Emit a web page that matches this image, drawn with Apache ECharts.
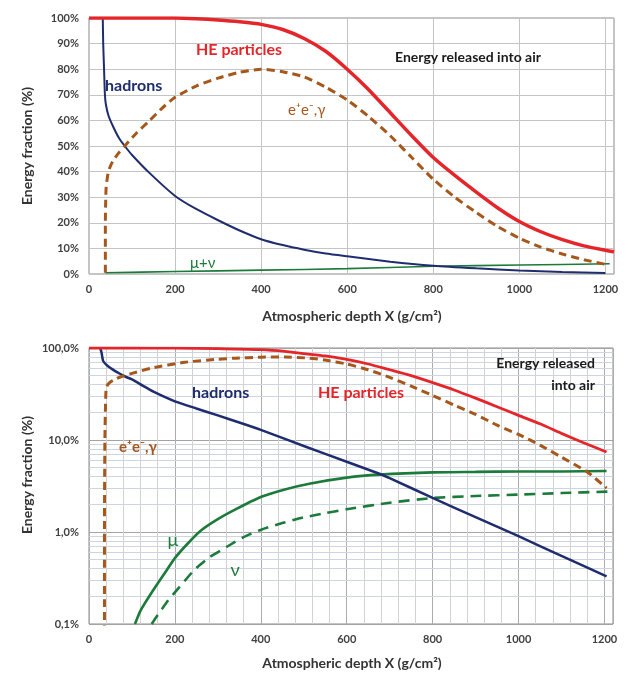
<!DOCTYPE html>
<html>
<head>
<meta charset="utf-8">
<script src="https://cdn.jsdelivr.net/npm/echarts@6/dist/echarts.min.js"></script>
<style>
  html, body { margin: 0; padding: 0; background: #fff; }
  #chart { width: 630px; height: 674px; }
</style>
</head>
<body>
<div id="chart"></div>
<script>
// ---- top panel (linear scale), points are [depth g/cm2, energy %] ----
const topHE = [[0,100],[100,100],[200,100],[250,99.7],[300,99.2],[350,98.5],[400,97.5],[450,95.5],[500,92],[550,87],[600,80],[650,72],[700,63],[750,54],[800,45.5],[850,38.5],[900,32],[950,25.8],[1000,20.5],[1050,16.5],[1100,13.4],[1150,11],[1200,9.3],[1220,8.7]];
const topEM = [[38,0.5],[38,10],[38,20],[39,30],[40,34],[45,40],[55,44],[70,47.5],[83,50],[110,55],[140,59.8],[170,64.8],[200,69],[250,73.5],[300,76.5],[350,78.8],[400,80],[450,79],[500,77],[550,73],[600,68],[650,61.5],[700,54],[750,45.5],[800,37],[850,30],[900,24],[950,18.5],[1000,14],[1050,10.5],[1100,7.8],[1150,5.6],[1205,3.6]];
const topHadrons = [[32,100],[33,90],[35,80],[37,70],[39,66.5],[45,62],[56,57.6],[70,53],[83,50],[100,46.5],[141,39.4],[200,30.5],[250,25.3],[300,21],[350,17],[400,13.6],[450,11.3],[500,9.5],[550,8],[600,6.9],[700,4.8],[800,3.2],[900,2.2],[1000,1.4],[1100,0.8],[1200,0.4]];
const topMuNu = [[38,0.5],[200,0.95],[400,1.5],[600,2.1],[800,3.0],[1000,3.5],[1210,4.0]];

// ---- bottom panel (log scale) ----
const botHE = [[0,100],[100,100],[200,99.5],[300,98.5],[400,96],[456,92],[500,87],[550,82],[600,75],[650,67],[700,58],[750,50],[800,42],[850,35],[900,28.5],[950,23],[1000,18.5],[1050,15],[1100,11.8],[1150,9.4],[1205,7.4]];
const botEM = [[36,0.08],[36,1],[37,10],[39,30],[41,38],[48,42],[60,45.5],[76,49],[100,53],[146,60.5],[223,70],[300,75.5],[340,77.5],[400,79.5],[456,80],[513,77.5],[550,74],[600,67],[650,58],[700,48],[750,38.5],[800,30.5],[850,24],[900,19],[950,14.5],[1000,11.5],[1050,8.8],[1100,6.5],[1160,4.5],[1205,3.0]];
const botHadrons = [[26,100],[29,90],[33,72],[40,66],[50,60.5],[60,56.5],[72,52.5],[84,49],[100,45.5],[125,39],[150,33.5],[200,26.3],[250,22],[300,18.5],[350,15.5],[400,12.9],[500,8.6],[600,5.8],[676,4.3],[700,3.85],[800,2.35],[900,1.45],[1000,0.9],[1100,0.55],[1205,0.33]];
const botMu = [[107,0.1],[120,0.14],[146,0.22],[175,0.35],[200,0.52],[230,0.75],[262,1.05],[300,1.38],[340,1.75],[400,2.4],[456,2.9],[513,3.35],[600,3.9],[676,4.2],[800,4.45],[900,4.5],[1000,4.55],[1100,4.55],[1205,4.6]];
const botNu = [[146,0.1],[160,0.125],[184,0.18],[210,0.25],[246,0.39],[280,0.53],[323,0.7],[360,0.88],[401,1.06],[450,1.25],[494,1.42],[550,1.6],[600,1.77],[700,2.08],[800,2.34],[900,2.46],[1000,2.55],[1100,2.65],[1208,2.75]];

// grid helper lines of the log panel
const logMinor = [0.2,0.3,0.4,0.5,0.6,0.7,0.8,0.9,2,3,4,5,6,7,8,9,20,30,40,50,60,70,80,90];
const depthMinor = [];
for (let d = 40; d < 1200; d += 40) if (d % 200 !== 0) depthMinor.push(d);

const RED = '#e4262b', NAVY = '#1f2d6e', BROWN = '#a5571c', GREEN = '#1c7a3a';
const FONT = 'Lato, "Open Sans", sans-serif';

const chart = echarts.init(document.getElementById('chart'));

function xAx(idx) {
  return {
    type: 'value', gridIndex: idx, min: 0, max: 1220, interval: 200,
    axisLine: { show: false }, axisTick: { show: false },
    axisLabel: {
      margin: 10, color: '#404040', fontWeight: 'bold', fontSize: 11, fontFamily: FONT,
      formatter: v => (v % 200 === 0 ? String(v) : '')
    },
    splitLine: { show: true, lineStyle: { color: idx === 0 ? '#c4c4c4' : '#acacac', width: 1 } }
  };
}

function line(name, data, color, width, dash, xi, z) {
  return {
    name, type: 'line', data, xAxisIndex: xi, yAxisIndex: xi,
    showSymbol: false, smooth: 0.2, z: z || 3,
    lineStyle: { color, width, type: dash || 'solid' }
  };
}

function txt(text, x, y, color, size, weight, align, rot) {
  return {
    type: 'text', x, y, rotation: rot || 0, z: 10,
    style: {
      text, fill: color, fontSize: size, fontWeight: weight || 'bold', fontFamily: FONT,
      textAlign: align || 'left', textVerticalAlign: 'middle'
    }
  };
}

const option = {
  backgroundColor: '#fff',
  animation: false,
  grid: [
    { left: 89, top: 18, width: 525, height: 256, show: true, borderColor: '#8a8a8a', borderWidth: 1 },
    { left: 89, top: 348, width: 524, height: 276, show: true, borderColor: '#8a8a8a', borderWidth: 1 }
  ],
  xAxis: [xAx(0), xAx(1)],
  yAxis: [
    {
      type: 'value', gridIndex: 0, min: 0, max: 100, interval: 10,
      axisLine: { show: false }, axisTick: { show: false },
      axisLabel: { margin: 10, color: '#404040', fontWeight: 'bold', fontSize: 11, fontFamily: FONT, formatter: '{value}%' },
      splitLine: { lineStyle: { color: '#c4c4c4' } }
    },
    {
      type: 'log', gridIndex: 1, min: 0.1, max: 100, logBase: 10,
      axisLine: { show: false }, axisTick: { show: false },
      axisLabel: {
        margin: 10, color: '#404040', fontWeight: 'bold', fontSize: 11, fontFamily: FONT,
        formatter: v => v.toFixed(1).replace('.', ',') + '%'
      },
      splitLine: { lineStyle: { color: '#a3a3a3' } }
    }
  ],
  series: [
    {
      type: 'line', data: [], xAxisIndex: 1, yAxisIndex: 1, z: 1, silent: true,
      markLine: {
        silent: true, symbol: 'none', label: { show: false }, animation: false, z: 1,
        lineStyle: { color: '#cdd5e2', width: 1, type: 'solid' },
        data: logMinor.map(v => ({ yAxis: v })).concat(depthMinor.map(v => ({ xAxis: v, lineStyle: { color: '#d2d2d2', width: 1, type: 'solid' } })))
      }
    },
    line('μ+ν', topMuNu, GREEN, 1.6, null, 0),
    line('hadrons', topHadrons, NAVY, 2, null, 0),
    line('e+e-,γ', topEM, BROWN, 3, [8, 5], 0),
    line('HE particles', topHE, RED, 3.5, null, 0, 4),
    line('ν', botNu, GREEN, 2.6, [11, 7], 1),
    line('μ', botMu, GREEN, 2.6, null, 1),
    line('hadrons', botHadrons, NAVY, 2.5, null, 1),
    line('e+e-,γ', botEM, BROWN, 3, [8, 5], 1),
    line('HE particles', botHE, RED, 2.8, null, 1, 4)
  ],
  graphic: [
    txt('Energy fraction (%)', 27, 146, '#333', 14, 'bold', 'center', Math.PI / 2),
    txt('Energy fraction (%)', 27, 475, '#333', 14, 'bold', 'center', Math.PI / 2),
    txt('Atmospheric depth X (g/cm²)', 352, 316, '#333', 14, 'bold', 'center'),
    txt('Atmospheric depth X (g/cm²)', 352, 663, '#333', 14, 'bold', 'center'),
    // top panel annotations
    txt('HE particles', 196, 50, RED, 16),
    txt('hadrons', 105, 86, NAVY, 16),
    txt('e⁺e⁻,γ', 288, 110, BROWN, 15, 'normal'),
    txt('μ+ν', 190, 263, GREEN, 15, 'normal'),
    txt('Energy released into air', 395, 57, '#1a1a1a', 14),
    // bottom panel annotations
    txt('Energy released', 595, 363, '#1a1a1a', 14, 'bold', 'right'),
    txt('into air', 595, 385, '#1a1a1a', 14, 'bold', 'right'),
    txt('HE particles', 318, 393, RED, 16),
    txt('hadrons', 192, 393, NAVY, 16),
    txt('e⁺e⁻,γ', 119, 447, BROWN, 15),
    txt('μ', 173, 540, GREEN, 18, 'normal', 'center'),
    txt('ν', 235, 570, GREEN, 18, 'normal', 'center')
  ]
};

chart.setOption(option);
</script>
</body>
</html>
